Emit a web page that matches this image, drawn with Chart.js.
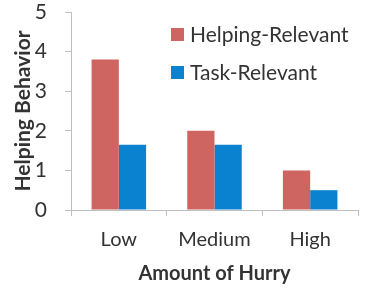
<!DOCTYPE html>
<html>
<head>
<meta charset="utf-8">
<style>
  html, body { margin: 0; padding: 0; background: #fff; }
  #wrap { width: 375px; height: 289px; position: relative; }
</style>
<script src="https://cdn.jsdelivr.net/npm/chart.js@4/dist/chart.umd.min.js"></script>
</head>
<body>
<div id="wrap"><canvas id="c" width="375" height="289"></canvas></div>
<script>
const categories = ["Low", "Medium", "High"];
const helpingRelevant = [3.8, 2.0, 1.0];
const taskRelevant = [1.65, 1.65, 0.5];
const seriesNames = ["Helping-Relevant", "Task-Relevant"];
const yTicks = [0, 1, 2, 3, 4, 5];

const FONT = "Lato, 'Open Sans', sans-serif";
const TEXT = "#333333";
const AXIS = "#bfbfbf";

const legendPlugin = {
  id: 'insideLegend',
  afterDraw(chart) {
    const ctx = chart.ctx;
    const pos = [{x: 171, y: 28}, {x: 171, y: 66}];
    ctx.save();
    chart.data.datasets.forEach((ds, i) => {
      const p = pos[i];
      ctx.fillStyle = ds.backgroundColor;
      ctx.fillRect(p.x, p.y, 13, 13);
      ctx.fillStyle = TEXT;
      ctx.font = "21px " + FONT;
      ctx.textBaseline = 'middle';
      ctx.textAlign = 'left';
      ctx.fillText(ds.label, p.x + 19, p.y + 7.5);
    });
    ctx.restore();
  }
};

new Chart(document.getElementById('c'), {
  type: 'bar',
  data: {
    labels: categories,
    datasets: [
      { label: seriesNames[0], data: helpingRelevant, backgroundColor: '#cf6560', borderWidth: 0 },
      { label: seriesNames[1], data: taskRelevant, backgroundColor: '#0a82cf', borderWidth: 0 }
    ]
  },
  options: {
    responsive: false,
    animation: false,
    devicePixelRatio: 1,
    layout: { padding: { top: 0, right: 17, left: 0, bottom: 0 } },
    plugins: { legend: { display: false }, tooltip: { enabled: false } },
    datasets: { bar: { categoryPercentage: 0.57, barPercentage: 1.0 } },
    scales: {
      x: {
        grid: { offset: true, drawOnChartArea: false, drawTicks: true, tickLength: 6, color: AXIS, lineWidth: 1 },
        border: { color: AXIS, width: 1 },
        ticks: { color: TEXT, font: { family: FONT, size: 20 }, padding: 12, maxRotation: 0 },
        title: { display: true, text: 'Amount of Hurry', color: TEXT, font: { family: FONT, size: 20, weight: 'bold' }, padding: { top: 0, bottom: 3 } },
        afterFit(scale) { scale.height = 79; }
      },
      y: {
        min: 0, max: 5,
        afterBuildTicks(scale) { scale.ticks = yTicks.map(v => ({ value: v })); },
        grid: { drawOnChartArea: false, drawTicks: true, tickLength: 6, color: AXIS, lineWidth: 1 },
        border: { color: AXIS, width: 1 },
        ticks: { color: TEXT, font: { family: FONT, size: 21 }, padding: 18 },
        title: { display: true, text: 'Helping Behavior', color: TEXT, font: { family: FONT, size: 21, weight: 'bold' }, padding: { top: 11, bottom: 0 } },
        afterFit(scale) { scale.width = 71; scale.paddingTop = 12; scale.paddingBottom = 12; }
      }
    }
  },
  plugins: [legendPlugin]
});
</script>
</body>
</html>
